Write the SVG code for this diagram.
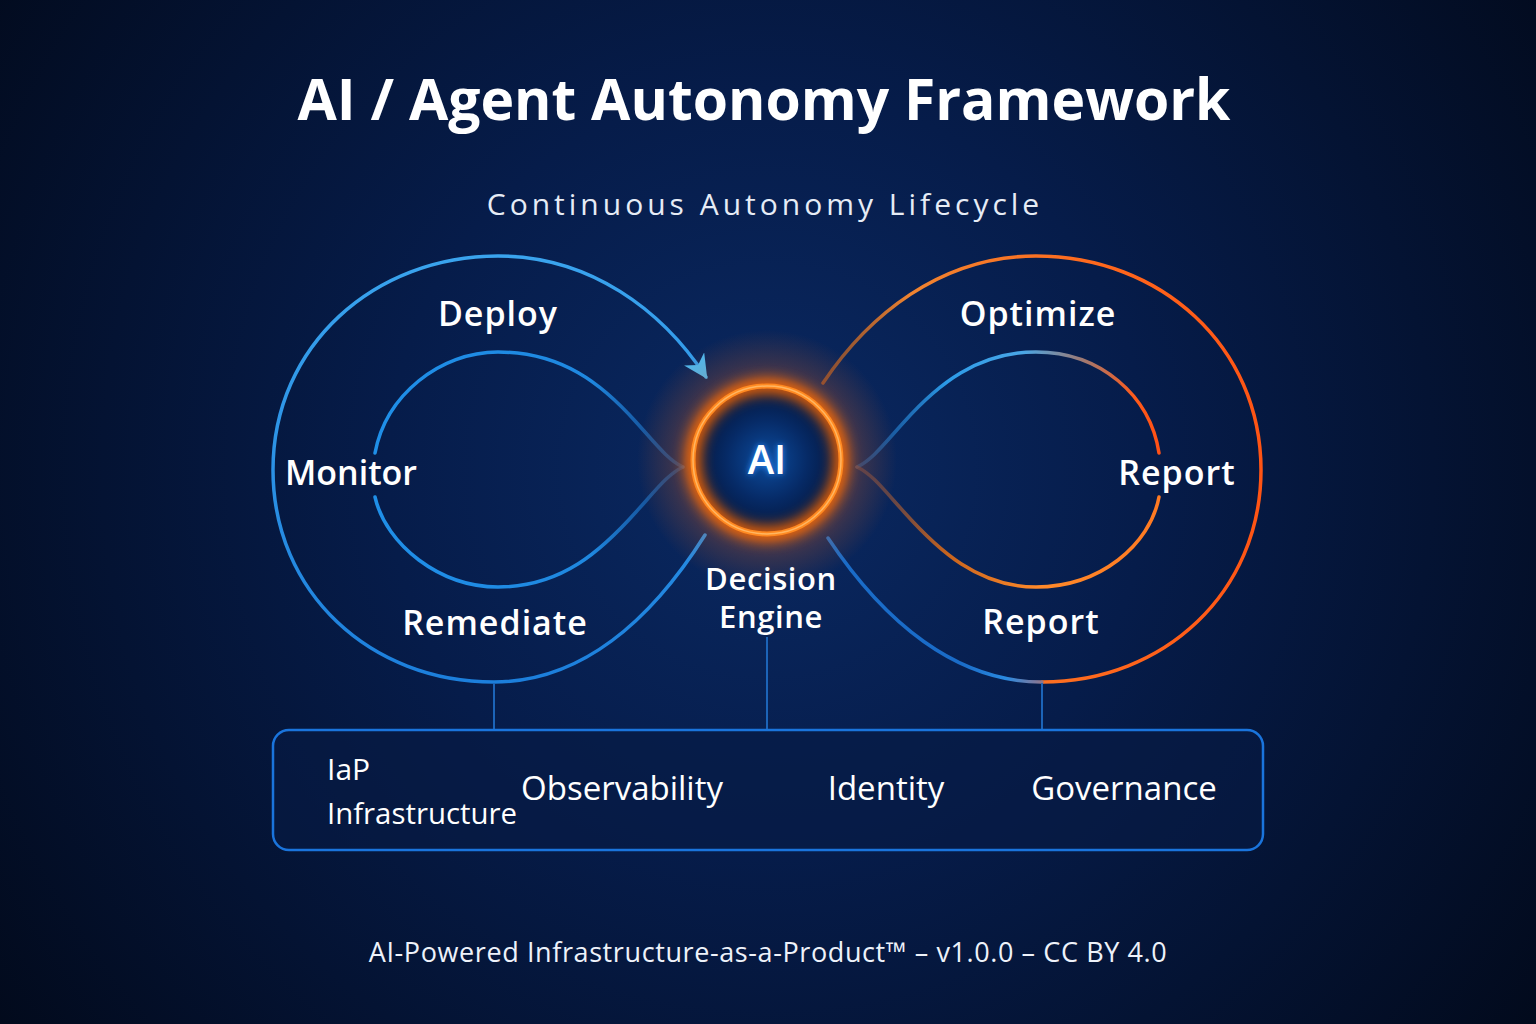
<svg xmlns="http://www.w3.org/2000/svg" width="1536" height="1024" viewBox="0 0 1536 1024">
  <defs>
    <radialGradient id="bg" cx="768" cy="470" r="950" gradientUnits="userSpaceOnUse">
      <stop offset="0" stop-color="#0a2962"/>
      <stop offset="0.4" stop-color="#061c4a"/>
      <stop offset="1" stop-color="#020a1c"/>
    </radialGradient>
    <radialGradient id="halo" cx="767" cy="460" r="130" gradientUnits="userSpaceOnUse">
      <stop offset="0.5" stop-color="#ff7a1a" stop-opacity="0.55"/>
      <stop offset="0.65" stop-color="#ff6a10" stop-opacity="0.25"/>
      <stop offset="1" stop-color="#ff6a10" stop-opacity="0"/>
    </radialGradient>
    <radialGradient id="core" cx="767" cy="460" r="74" gradientUnits="userSpaceOnUse">
      <stop offset="0" stop-color="#0c4c9e"/>
      <stop offset="0.55" stop-color="#062a66"/>
      <stop offset="0.9" stop-color="#041a44"/>
      <stop offset="1" stop-color="#1a1a3a"/>
    </radialGradient>
    <linearGradient id="leftOuter" x1="0" y1="256" x2="0" y2="682" gradientUnits="userSpaceOnUse">
      <stop offset="0" stop-color="#3aa4ee"/>
      <stop offset="1" stop-color="#1c7fdc"/>
    </linearGradient>
    <linearGradient id="leftInner" x1="375" y1="0" x2="684" y2="0" gradientUnits="userSpaceOnUse">
      <stop offset="0" stop-color="#1f8fe8"/>
      <stop offset="0.7" stop-color="#1f88e0"/>
      <stop offset="1" stop-color="#1a5aa8" stop-opacity="0.5"/>
    </linearGradient>
    <linearGradient id="rightInnerTop" x1="856" y1="0" x2="1160" y2="0" gradientUnits="userSpaceOnUse">
      <stop offset="0" stop-color="#1a5aa8" stop-opacity="0.5"/>
      <stop offset="0.3" stop-color="#2c9be8"/>
      <stop offset="0.55" stop-color="#4aa6e6"/>
      <stop offset="0.75" stop-color="#a07870"/>
      <stop offset="0.92" stop-color="#ff5a1a"/>
      <stop offset="1" stop-color="#ff5016"/>
    </linearGradient>
    <linearGradient id="rightInnerBottom" x1="856" y1="0" x2="1160" y2="0" gradientUnits="userSpaceOnUse">
      <stop offset="0" stop-color="#6a4a50" stop-opacity="0.5"/>
      <stop offset="0.3" stop-color="#c8641e"/>
      <stop offset="0.6" stop-color="#ff8a2a"/>
      <stop offset="1" stop-color="#ff7a22"/>
    </linearGradient>
    <linearGradient id="rightOuterTop" x1="823" y1="0" x2="1261" y2="0" gradientUnits="userSpaceOnUse">
      <stop offset="0" stop-color="#c8641e" stop-opacity="0.6"/>
      <stop offset="0.2" stop-color="#f08430"/>
      <stop offset="0.6" stop-color="#ff6a1e"/>
      <stop offset="1" stop-color="#ff5414"/>
    </linearGradient>
    <linearGradient id="rightOuterBottom" x1="1075" y1="0" x2="960" y2="0" gradientUnits="userSpaceOnUse">
      <stop offset="0" stop-color="#ff6a1e"/>
      <stop offset="0.35" stop-color="#7a7aa0"/>
      <stop offset="0.6" stop-color="#2a8ae0"/>
      <stop offset="1" stop-color="#1a6cc8"/>
    </linearGradient>
    <filter id="blur8" x="-50%" y="-50%" width="200%" height="200%">
      <feGaussianBlur stdDeviation="7"/>
    </filter>
    <filter id="blur3" x="-50%" y="-50%" width="200%" height="200%">
      <feGaussianBlur stdDeviation="3"/>
    </filter>
    <marker id="arrow" viewBox="0 0 10 10" refX="9" refY="5" markerWidth="24" markerHeight="24" markerUnits="userSpaceOnUse" orient="auto">
      <path d="M0,0 L10,5 L0,10 L3,5 z" fill="#4ab8f2"/>
    </marker>
    <style>
      .title { font-family: "Open Sans", "Noto Sans", sans-serif; font-weight: 700; fill: #ffffff; font-size: 57px; }
      .sub { font-family: "Open Sans", "Noto Sans", sans-serif; font-weight: 400; fill: #e6ecf6; font-size: 30px; letter-spacing: 4px; }
      .lbl { font-family: "Open Sans", "Noto Sans", sans-serif; font-weight: 600; fill: #ffffff; font-size: 34px; letter-spacing: 1px; }
      .de { font-family: "Open Sans", "Noto Sans", sans-serif; font-weight: 600; fill: #ffffff; font-size: 31px; letter-spacing: 0.6px; }
      .box { font-family: "Open Sans", "Noto Sans", sans-serif; font-weight: 400; fill: #ffffff; font-size: 33px; }
      .box2 { font-family: "Open Sans", "Noto Sans", sans-serif; font-weight: 400; fill: #ffffff; font-size: 30px; }
      .foot { font-family: "Open Sans", "Noto Sans", sans-serif; font-weight: 400; fill: #eef2fa; font-size: 27px; letter-spacing: 0.6px; }
      .loop { fill: none; stroke-width: 3.5; stroke-linecap: round; }
      .link { stroke: #1c64b8; stroke-width: 2; fill: none; }
    </style>
  </defs>

  <rect width="1536" height="1024" fill="url(#bg)"/>

  <text class="title" x="764" y="120" text-anchor="middle">AI / Agent Autonomy Framework</text>
  <text class="sub" x="765" y="215" text-anchor="middle">Continuous Autonomy Lifecycle</text>

  <g id="connectors">
    <path id="left-outer" class="loop" stroke="url(#leftOuter)" d="M 705 535 C 650 622, 580 682, 494 682 C 370 682, 273 592, 273 470 C 273 345, 375 256, 498 256 C 590 256, 662 310, 706 377" marker-end="url(#arrow)"/>
    <path id="left-inner-top" class="loop" stroke="url(#leftInner)" d="M 375 453 C 386 395, 440 352, 498 352 C 562 352, 602 384, 636 422 C 656 444, 668 460, 683 467"/>
    <path id="left-inner-bottom" class="loop" stroke="url(#leftInner)" d="M 683 467 C 668 474, 656 490, 636 512 C 602 550, 562 587, 498 587 C 440 587, 386 545, 375 497"/>
    <path id="right-outer-top" class="loop" stroke="url(#rightOuterTop)" d="M 823 383 C 868 316, 940 256, 1036 256 C 1160 256, 1261 346, 1261 470 C 1261 592, 1164 682, 1042 682"/>
    <path id="right-outer-bottom" class="loop" stroke="url(#rightOuterBottom)" d="M 1042 682 C 956 682, 884 622, 828 538"/>
    <path id="right-inner-top" class="loop" stroke="url(#rightInnerTop)" d="M 857 467 C 872 460, 884 444, 904 422 C 938 384, 978 352, 1036 352 C 1100 352, 1150 395, 1159 453"/>
    <path id="right-inner-bottom" class="loop" stroke="url(#rightInnerBottom)" d="M 857 467 C 872 474, 884 490, 904 512 C 938 550, 978 587, 1036 587 C 1100 587, 1150 545, 1159 497"/>
    <line class="link" x1="494" y1="683" x2="494" y2="730"/>
    <line class="link" x1="767" y1="637" x2="767" y2="730"/>
    <line class="link" x1="1042" y1="683" x2="1042" y2="730"/>
  </g>

  <g id="ai-core">
    <circle cx="767" cy="460" r="130" fill="url(#halo)"/>
    <circle cx="767" cy="460" r="74" fill="url(#core)"/>
    <circle cx="767" cy="460" r="74" fill="none" stroke="#ff6a00" stroke-width="14" filter="url(#blur8)"/>
    <circle cx="767" cy="460" r="74" fill="none" stroke="#ff8a22" stroke-width="5"/>
    <circle cx="767" cy="460" r="74" fill="none" stroke="#ffc070" stroke-width="1.5" opacity="0.8"/>
    <text x="767" y="474" font-family="Open Sans, Noto Sans, sans-serif" font-weight="600" font-size="40" text-anchor="middle" fill="#2a8cff" filter="url(#blur3)">AI</text>
    <text x="767" y="474" font-family="Open Sans, Noto Sans, sans-serif" font-weight="600" font-size="40" text-anchor="middle" fill="#ffffff">AI</text>
  </g>

  <g id="decision-engine">
    <text class="de" x="771" y="590" text-anchor="middle">Decision</text>
    <text class="de" x="771" y="628" text-anchor="middle">Engine</text>
  </g>

  <g id="deploy"><text class="lbl" x="498" y="326" text-anchor="middle">Deploy</text></g>
  <g id="monitor"><text class="lbl" x="351" y="485" text-anchor="middle" style="letter-spacing:0">Monitor</text></g>
  <g id="remediate"><text class="lbl" x="495" y="635" text-anchor="middle">Remediate</text></g>
  <g id="optimize"><text class="lbl" x="1038" y="326" text-anchor="middle">Optimize</text></g>
  <g id="report-right"><text class="lbl" x="1177" y="485" text-anchor="middle">Report</text></g>
  <g id="report-bottom"><text class="lbl" x="1041" y="634" text-anchor="middle">Report</text></g>

  <g id="platform">
    <rect x="273" y="730" width="990" height="120" rx="16" fill="#061a44" fill-opacity="0.6" stroke="#1a74dc" stroke-width="2.5"/>
    <text class="box2" x="327" y="780">IaP</text>
    <text class="box2" x="327" y="824" textLength="190" lengthAdjust="spacingAndGlyphs">Infrastructure</text>
    <text class="box" x="622" y="800" text-anchor="middle">Observability</text>
    <text class="box" x="886" y="800" text-anchor="middle">Identity</text>
    <text class="box" x="1124" y="800" text-anchor="middle">Governance</text>
  </g>

  <text class="foot" x="768" y="962" text-anchor="middle">AI-Powered Infrastructure-as-a-Product™ – v1.0.0 – CC BY 4.0</text>
</svg>
